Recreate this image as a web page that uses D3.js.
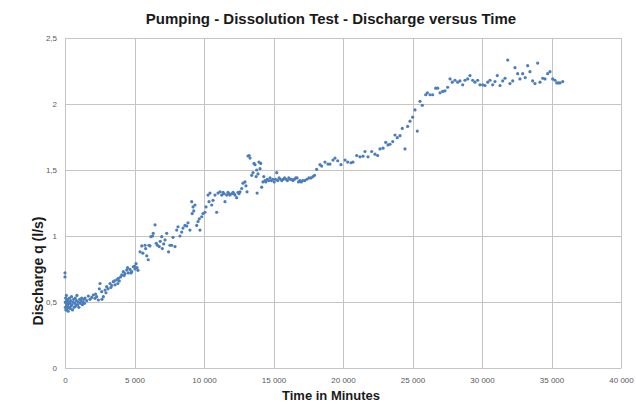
<!DOCTYPE html>
<html>
<head>
<meta charset="utf-8">
<script src="https://cdn.jsdelivr.net/npm/d3@7"></script>
<style>
  html, body { margin: 0; padding: 0; background: #fff; }
  svg { display: block; }
</style>
</head>
<body>
<svg id="chart" width="636" height="404"></svg>
<script>
// ---- Data ----
const chartTitle = "Pumping - Dissolution Test - Discharge versus Time";
const xAxisTitle = "Time in Minutes";
const yAxisTitle = "Discharge q (l/s)";

const xTicks = [0, 5000, 10000, 15000, 20000, 25000, 30000, 35000, 40000];
const xTickLabels = ["0", "5 000", "10 000", "15 000", "20 000", "25 000", "30 000", "35 000", "40 000"];
const yTicks = [0, 0.5, 1, 1.5, 2, 2.5];
const yTickLabels = ["0", "0,5", "1", "1,5", "2", "2,5"];

const timeMin = [
  0, 0, 15, 30, 45, 60, 80, 100, 120, 140, 160, 180, 200, 230, 260, 290, 320, 350, 380, 410, 440, 470, 500, 540, 580, 620, 660, 700, 740, 780, 820, 860, 900, 950, 1000, 1050, 1100, 1150, 1200, 1250, 1300, 1350, 1400,
  1440, 1560, 1680, 1800, 1920, 2040, 2160, 2200, 2280, 2400, 2470, 2520, 2640, 2660, 2760, 2880, 2950, 3000, 3095, 3240, 3300, 3360, 3475, 3550, 3600, 3720, 3800, 3835, 3905, 4000, 4080, 4195, 4250, 4315, 4440, 4500, 4555, 4675, 4750, 4800, 4915, 5000, 5035, 5110, 5180, 5250,
  5400, 5520, 5600, 5755, 5800, 5880, 5990, 6040, 6115, 6180, 6300, 6350, 6480, 6560, 6650, 6780, 6850, 6960, 7000,
  7100, 7195, 7315, 7450, 7550, 7675, 7770, 7915, 8035, 8130, 8270, 8395, 8490, 8630, 8755, 8850, 8990, 9115, 9150, 9210, 9260, 9350, 9475, 9570, 9660, 9710, 9835, 9930,
  10070, 10145, 10290, 10360, 10430, 10555, 10650, 10790, 10915, 11010, 11150, 11275, 11370, 11450, 11510, 11635, 11725, 11800, 11870, 11995, 12090, 12160, 12230, 12350, 12445, 12520, 12590, 12710, 12805, 12950, 13020, 13095,
  13165, 13250, 13310, 13430, 13525, 13600, 13670, 13750, 13790, 13820, 13885, 13955, 14030, 14080, 14150, 14245, 14300, 14390,
  14450, 14550, 14650, 14750, 14850, 14950, 15050, 15150, 15230, 15300, 15400, 15500, 15600, 15700, 15800, 15900, 16000, 16100, 16200, 16300, 16400, 16500, 16600, 16700, 16800, 16900, 17000, 17100, 17250, 17400, 17550, 17700, 17840,
  17950, 18105, 18345, 18465, 18705, 18920, 19065, 19280, 19425, 19620, 19855, 20145, 20335, 20575, 20720, 20985, 21220, 21440, 21580, 21800, 22065, 22300, 22495, 22660, 22880, 23070, 23235, 23380, 23575, 23740, 23905, 24100, 24265, 24460, 24650, 24820, 25010, 25180, 25345, 25540, 25705, 25950, 26065, 26260, 26450, 26670, 26810, 26980, 27170, 27335, 27530, 27700, 27860, 28055, 28250, 28415, 28610, 28775, 28970, 29135, 29330, 29495, 29690, 29855, 30050, 30215, 30410, 30575, 30770, 30935, 31100, 31295, 31490, 31655, 31850, 32010, 32210, 32375, 32565, 32730, 32925, 33110, 33285, 33450, 33645, 33810, 34005, 34170, 34365, 34530, 34725, 34890, 35085, 35250, 35375, 35490, 35610, 35805
];

const discharge = [
  0.72, 0.69, 0.50, 0.46, 0.53, 0.44, 0.49, 0.55, 0.47, 0.51, 0.45, 0.52, 0.48, 0.43, 0.50, 0.46, 0.53, 0.49, 0.45, 0.51, 0.47, 0.54, 0.48, 0.44, 0.50, 0.52, 0.46, 0.49, 0.53, 0.47, 0.51, 0.55, 0.48, 0.50, 0.46, 0.52, 0.49, 0.51, 0.53, 0.48, 0.50, 0.52, 0.49,
  0.53, 0.51, 0.545, 0.52, 0.535, 0.553, 0.528, 0.56, 0.54, 0.515, 0.60, 0.64, 0.578, 0.52, 0.54, 0.59, 0.57, 0.616, 0.60, 0.64, 0.61, 0.625, 0.654, 0.66, 0.63, 0.667, 0.64, 0.68, 0.66, 0.69, 0.705, 0.73, 0.70, 0.715, 0.742, 0.76, 0.72, 0.747, 0.72, 0.73, 0.767, 0.77, 0.75, 0.79, 0.76, 0.74,
  0.88, 0.925, 0.87, 0.93, 0.905, 0.85, 0.82, 0.93, 0.925, 0.995, 1.0, 1.02, 1.085, 0.945, 0.93, 0.92, 0.96, 0.995, 0.905,
  0.94, 0.97, 1.02, 0.88, 0.93, 0.93, 0.99, 0.92, 1.045, 1.07, 1.0, 1.03, 1.06, 1.08, 1.075, 1.10, 1.045, 1.26, 1.17, 1.22, 1.19, 1.235, 1.08, 1.11, 1.13, 1.045, 1.146, 1.17,
  1.18, 1.22, 1.31, 1.26, 1.325, 1.235, 1.27, 1.31, 1.18, 1.325, 1.335, 1.31, 1.33, 1.32, 1.26, 1.31, 1.33, 1.32, 1.31, 1.32, 1.33, 1.32, 1.31, 1.29, 1.33, 1.32, 1.335, 1.36, 1.40, 1.41, 1.38, 1.335,
  1.606, 1.61, 1.59, 1.46, 1.48, 1.55, 1.54, 1.45, 1.50, 1.325, 1.47, 1.56, 1.51, 1.55, 1.37, 1.41, 1.45, 1.42,
  1.41, 1.43, 1.42, 1.44, 1.42, 1.43, 1.41, 1.43, 1.48, 1.42, 1.44, 1.43, 1.42, 1.43, 1.44, 1.43, 1.42, 1.44, 1.43, 1.43, 1.42, 1.43, 1.44, 1.44, 1.41, 1.42, 1.41, 1.42, 1.42, 1.43, 1.44, 1.44, 1.45,
  1.46, 1.505, 1.54, 1.53, 1.56, 1.545, 1.545, 1.575, 1.59, 1.57, 1.54, 1.575, 1.56, 1.555, 1.56, 1.61, 1.60, 1.605, 1.64, 1.60, 1.64, 1.62, 1.61, 1.66, 1.665, 1.71, 1.69, 1.695, 1.715, 1.765, 1.745, 1.76, 1.815, 1.66, 1.83, 1.87, 1.90, 1.955, 1.795, 2.02, 1.99, 2.07, 2.085, 2.07, 2.07, 2.12, 2.12, 2.085, 2.095, 2.10, 2.127, 2.19, 2.165, 2.18, 2.165, 2.175, 2.145, 2.18, 2.19, 2.215, 2.18, 2.165, 2.18, 2.145, 2.145, 2.14, 2.165, 2.18, 2.145, 2.17, 2.215, 2.14, 2.175, 2.195, 2.333, 2.155, 2.175, 2.275, 2.23, 2.19, 2.23, 2.20, 2.29, 2.245, 2.175, 2.155, 2.31, 2.165, 2.195, 2.19, 2.23, 2.245, 2.19, 2.18, 2.16, 2.16, 2.16, 2.17
];

// ---- Drawing ----
const svg = d3.select("#chart");
const W = 636, H = 404;
const plot = { left: 65, right: 621, top: 38, bottom: 368 };

const x = d3.scaleLinear().domain([0, 40000]).range([plot.left, plot.right]);
const y = d3.scaleLinear().domain([0, 2.5]).range([plot.bottom, plot.top]);

svg.append("rect").attr("width", W).attr("height", H).attr("fill", "#ffffff");

const gridColor = "#c4c4c4";

// vertical gridlines
svg.append("g").selectAll("line").data(xTicks).join("line")
  .attr("x1", d => Math.round(x(d)) + 0.5).attr("x2", d => Math.round(x(d)) + 0.5)
  .attr("y1", plot.top).attr("y2", plot.bottom)
  .attr("stroke", gridColor).attr("stroke-width", 1);

// horizontal gridlines
svg.append("g").selectAll("line").data(yTicks).join("line")
  .attr("x1", plot.left).attr("x2", plot.right)
  .attr("y1", d => Math.round(y(d)) + 0.5).attr("y2", d => Math.round(y(d)) + 0.5)
  .attr("stroke", gridColor).attr("stroke-width", 1);

// axes (labels via d3 axes)
const xAxis = d3.axisBottom(x).tickValues(xTicks)
  .tickFormat((d, i) => xTickLabels[i]).tickSize(0).tickPadding(9);
const gx = svg.append("g").attr("transform", `translate(0,${plot.bottom})`).call(xAxis);
gx.select(".domain").attr("stroke", gridColor);
gx.selectAll("text").attr("fill", "#595959")
  .style("font-family", "'Liberation Sans', Arial, sans-serif").style("font-size", "8px");

const yAxis = d3.axisLeft(y).tickValues(yTicks)
  .tickFormat((d, i) => yTickLabels[i]).tickSize(0).tickPadding(8);
const gy = svg.append("g").attr("transform", `translate(${plot.left},0)`).call(yAxis);
gy.select(".domain").attr("stroke", gridColor);
gy.selectAll("text").attr("fill", "#595959")
  .style("font-family", "'Liberation Sans', Arial, sans-serif").style("font-size", "8px");

// points
const pts = timeMin.map((t, i) => ({ t, q: discharge[i] }));
svg.append("g").selectAll("circle").data(pts).join("circle")
  .attr("cx", d => x(d.t))
  .attr("cy", d => y(d.q))
  .attr("r", 1.6)
  .attr("fill", "#4a7ebb");

// titles
svg.append("text")
  .attr("x", 331).attr("y", 24)
  .attr("text-anchor", "middle")
  .style("font-family", "'Liberation Sans', Arial, sans-serif")
  .style("font-size", "15px").style("font-weight", "bold")
  .attr("fill", "#1a1a1a")
  .text(chartTitle);

svg.append("text")
  .attr("x", 331).attr("y", 400)
  .attr("text-anchor", "middle")
  .style("font-family", "'Liberation Sans', Arial, sans-serif")
  .style("font-size", "13px").style("font-weight", "bold")
  .attr("fill", "#1a1a1a")
  .text(xAxisTitle);

svg.append("text")
  .attr("transform", "translate(43,271) rotate(-90)")
  .attr("text-anchor", "middle")
  .style("font-family", "'Liberation Sans', Arial, sans-serif")
  .style("font-size", "14px").style("font-weight", "bold")
  .attr("fill", "#1a1a1a")
  .text(yAxisTitle);
</script>
</body>
</html>
